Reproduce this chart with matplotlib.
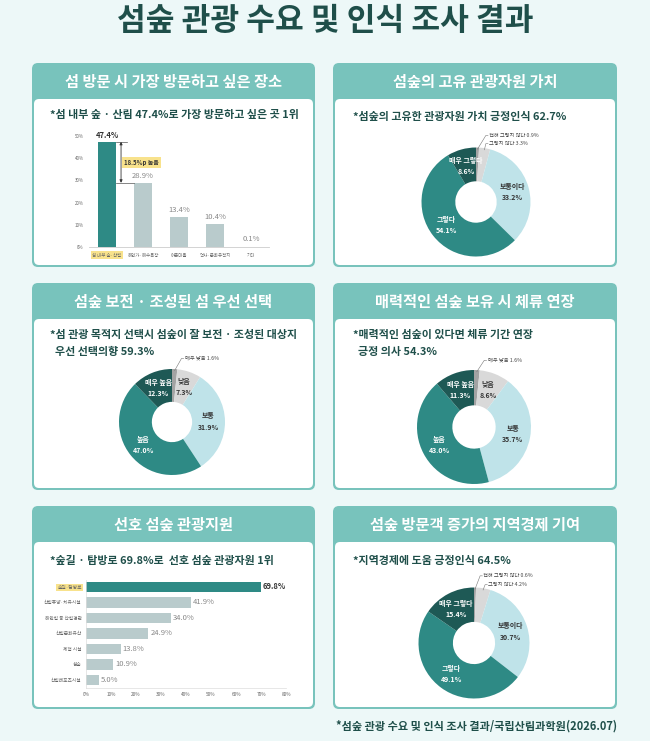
import numpy as np
import matplotlib
matplotlib.use("Agg")
import matplotlib.pyplot as plt
from matplotlib.patches import FancyBboxPatch

plt.rcParams['font.family'] = ['Noto Sans CJK KR', 'DejaVu Sans']

W, H = 650, 741
BG = '#edf8f8'
HEAD = '#78c3bc'
DARK = '#1f4f4a'
TEAL = '#2e8a85'
DTEAL = '#1e5955'
LBLUE = '#bfe3e9'
LGREY = '#d9d9d9'
MGREY = '#a3a3a3'
BARGREY = '#b9cbcc'
YELLOW = '#f8e28c'

# data
place_labels = ['섬 내부 숲·산림', '해안가·해수욕장', '어촌마을', '역사·문화유적지', '기타']
place_vals = [47.4, 28.9, 13.4, 10.4, 0.1]

value_labels = ['전혀 그렇지 않다', '그렇지 않다', '보통이다', '그렇다', '매우 그렇다']
value_vals = [0.9, 3.3, 33.2, 54.1, 8.6]

keep_labels = ['매우 낮음', '낮음', '보통', '높음', '매우 높음']
keep_vals = [1.6, 7.3, 31.9, 47.0, 12.3]

stay_labels = ['매우 낮음', '낮음', '보통', '높음', '매우 높음']
stay_vals = [1.6, 8.6, 35.7, 43.0, 11.3]

res_labels = ['숲길·탐방로', '산림휴양·치유시설', '해안림 등 산림경관', '산림문화유산', '체험 시설', '섬숲', '산림레포츠시설']
res_vals = [69.8, 41.9, 34.0, 24.9, 13.8, 10.9, 5.0]

eco_labels = ['전혀 그렇지 않다', '그렇지 않다', '보통이다', '그렇다', '매우 그렇다']
eco_vals = [0.6, 4.2, 30.7, 49.1, 15.4]

donut_colors = [MGREY, LGREY, LBLUE, TEAL, DTEAL]

fig = plt.figure(figsize=(W / 100, H / 100), dpi=100)
fig.patch.set_facecolor(BG)
bg = fig.add_axes([0, 0, 1, 1])
bg.set_xlim(0, W)
bg.set_ylim(H, 0)
bg.axis('off')


def px_axes(x0, y0, x1, y1):
    return fig.add_axes([x0 / W, 1 - y1 / H, (x1 - x0) / W, (y1 - y0) / H])


def panel(x0, y0, x1, y1, title, head_h=36):
    bg.add_patch(FancyBboxPatch((x0, y0), x1 - x0, y1 - y0,
                                boxstyle="round,pad=0,rounding_size=6",
                                fc=HEAD, ec='none'))
    bg.add_patch(FancyBboxPatch((x0 + 2, y0 + head_h), x1 - x0 - 4, y1 - y0 - head_h - 2,
                                boxstyle="round,pad=0,rounding_size=5",
                                fc='white', ec='none'))
    bg.text((x0 + x1) / 2, y0 + head_h / 2 + 1, title, ha='center', va='center',
            color='white', fontsize=11, fontweight='bold')


bg.text(W / 2, 21, '섬숲 관광 수요 및 인식 조사 결과', ha='center', va='center',
        color=DARK, fontsize=22.5, fontweight='heavy')

panel(32, 63, 315, 267, '섬 방문 시 가장 방문하고 싶은 장소')
panel(333, 63, 617, 267, '섬숲의 고유 관광자원 가치')
panel(32, 283, 315, 490, '섬숲 보전 · 조성된 섬 우선 선택')
panel(333, 283, 617, 490, '매력적인 섬숲 보유 시 체류 연장')
panel(32, 506, 315, 709, '선호 섬숲 관광지원')
panel(333, 506, 617, 709, '섬숲 방문객 증가의 지역경제 기여')

sub_kw = dict(ha='left', va='center', color=DARK, fontsize=7.9, fontweight='bold')
bg.text(50, 115, '*섬 내부 숲 · 산림 47.4%로 가장 방문하고 싶은 곳 1위', **sub_kw)
bg.text(353, 117, '*섬숲의 고유한 관광자원 가치 긍정인식 62.7%', **sub_kw)
bg.text(50, 335, '*섬 관광 목적지 선택시 섬숲이 잘 보전 · 조성된 대상지', **sub_kw)
bg.text(50, 352, '  우선 선택의향 59.3%', **sub_kw)
bg.text(353, 335, '*매력적인 섬숲이 있다면 체류 기간 연장', **sub_kw)
bg.text(353, 352, '  긍정 의사 54.3%', **sub_kw)
bg.text(50, 561, '*숲길 · 탐방로 69.8%로  선호 섬숲 관광자원 1위', **sub_kw)
bg.text(353, 561, '*지역경제에 도움 긍정인식 64.5%', **sub_kw)
bg.text(617, 726, '*섬숲 관광 수요 및 인식 조사 결과/국립산림과학원(2026.07)',
        ha='right', va='center', color=DARK, fontsize=8, fontweight='bold')

# ---- vertical bar chart
ax = px_axes(89, 136, 269, 247)
x = np.arange(len(place_vals))
cols = [TEAL] + [BARGREY] * (len(place_vals) - 1)
ax.bar(x, place_vals, width=0.5, color=cols)
ax.set_xlim(-0.5, 4.5)
ax.set_ylim(0, 50)
ax.set_yticks(range(0, 51, 10))
ax.set_yticklabels(['%d%%' % v for v in range(0, 51, 10)])
ax.set_xticks(x)
ax.set_xticklabels(place_labels)
ax.tick_params(length=0, labelsize=3.2, colors='#666666', pad=4)
ax.get_xticklabels()[0].set_bbox(dict(fc=YELLOW, ec='none', pad=0.8))
for s in ['top', 'right', 'left']:
    ax.spines[s].set_visible(False)
ax.spines['bottom'].set_color('#cccccc')
ax.spines['bottom'].set_linewidth(0.6)
ax.set_facecolor('none')
for i, v in enumerate(place_vals):
    if i == 0:
        ax.text(i, v + 0.8, '%.1f%%' % v, ha='center', va='bottom', fontsize=5.5,
                fontweight='bold', color='#333333')
    else:
        ax.text(i, v + 1.5, '%.1f%%' % v, ha='center', va='bottom', fontsize=5.5,
                color='#888888')
ax.plot([0.25, 0.55], [place_vals[0]] * 2, color='#555555', lw=0.5)
ax.plot([0.25, 0.75], [place_vals[1]] * 2, color='#555555', lw=0.5)
ax.annotate('', xy=(0.39, place_vals[1]), xytext=(0.39, place_vals[0]),
            arrowprops=dict(arrowstyle='<|-|>', color='#333333', lw=0.6,
                            mutation_scale=4, shrinkA=0, shrinkB=0))
ax.text(0.95, 38, '%.1f%%p 높음' % (place_vals[0] - place_vals[1]), ha='center',
        va='center', fontsize=4.3, fontweight='bold', color='#333333',
        bbox=dict(fc=YELLOW, ec='none', pad=1.5))


# ---- donuts
def donut(cx, cy, R, vals, labels, inner, outer, L=1.7):
    ax = px_axes(cx - L * R, cy - L * R, cx + L * R, cy + L * R)
    ax.pie(vals, colors=donut_colors, startangle=90, counterclock=False, radius=1,
           wedgeprops=dict(width=0.62, edgecolor='none'))
    ax.set_xlim(-L, L)
    ax.set_ylim(-L, L)
    ax.set_aspect('equal')
    ax.axis('off')
    total = sum(vals)
    cum = 0
    mids = []
    for v in vals:
        mids.append(np.deg2rad(90 - (cum + v / 2) / total * 360))
        cum += v
    for i in inner:
        a = mids[i]
        c = 'white' if i >= 3 else '#333333'
        ax.text(0.69 * np.cos(a), 0.69 * np.sin(a), '%s\n%.1f%%' % (labels[i], vals[i]),
                ha='center', va='center', fontsize=5, fontweight='bold', color=c,
                linespacing=1.7)
    for i, (tx, ty) in outer:
        a = mids[i]
        sx, sy = 0.97 * np.cos(a), 0.97 * np.sin(a)
        ax.plot([sx, tx - 0.06, tx - 0.02], [sy, ty, ty], color='#777777', lw=0.4)
        ax.text(tx, ty, '%s %.1f%%' % (labels[i], vals[i]), ha='left', va='center',
                fontsize=3.8, color='#444444')


donut(476, 202, 54.5, value_vals, value_labels, [2, 3, 4],
      [(0, (0.24, 1.22)), (1, (0.24, 1.07))])
donut(172, 422, 53, keep_vals, keep_labels, [1, 2, 3, 4],
      [(0, (0.24, 1.20))])
donut(474, 427, 57, stay_vals, stay_labels, [1, 2, 3, 4],
      [(0, (0.24, 1.17))])
donut(474, 643, 55.5, eco_vals, eco_labels, [2, 3, 4],
      [(0, (0.17, 1.21)), (1, (0.26, 1.05))])

# ---- horizontal bar chart
ax = px_axes(86, 580, 286, 688)
y = np.arange(len(res_vals))
cols = [TEAL] + [BARGREY] * (len(res_vals) - 1)
ax.barh(y, res_vals, height=0.69, color=cols)
ax.set_xlim(0, 80)
ax.set_ylim(6.52, -0.45)
ax.set_xticks(range(0, 81, 10))
ax.set_xticklabels(['%d%%' % v for v in range(0, 81, 10)])
ax.set_yticks(y)
ax.set_yticklabels(res_labels)
ax.tick_params(length=0, labelsize=3.4, colors='#666666', pad=3)
ax.get_yticklabels()[0].set_bbox(dict(fc=YELLOW, ec='none', pad=0.8))
for s in ['top', 'right']:
    ax.spines[s].set_visible(False)
for s in ['bottom', 'left']:
    ax.spines[s].set_color('#dddddd')
    ax.spines[s].set_linewidth(0.5)
ax.set_facecolor('none')
for i, v in enumerate(res_vals):
    if i == 0:
        ax.text(v + 0.8, i, '%.1f%%' % v, va='center', ha='left', fontsize=5.5,
                fontweight='bold', color='#333333')
    else:
        ax.text(v + 0.8, i, '%.1f%%' % v, va='center', ha='left', fontsize=5.5,
                color='#888888')

fig.savefig('out.png', dpi=100, facecolor=BG)
